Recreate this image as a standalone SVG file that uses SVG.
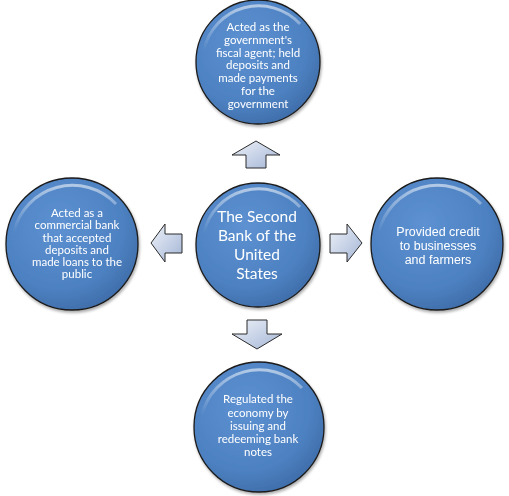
<svg xmlns="http://www.w3.org/2000/svg" width="509" height="496" viewBox="0 0 509 496">
<defs>
<radialGradient id="cg" cx="0.4" cy="0.35" r="0.7">
<stop offset="0" stop-color="#5d91d1"/>
<stop offset="0.7" stop-color="#4d81c1"/>
<stop offset="1" stop-color="#3e6ca8"/>
</radialGradient>
<linearGradient id="hl" x1="0" y1="0" x2="0" y2="1">
<stop offset="0" stop-color="#ffffff" stop-opacity="0.55"/>
<stop offset="1" stop-color="#ffffff" stop-opacity="0"/>
</linearGradient>
<linearGradient id="ag" x1="0" y1="0" x2="1" y2="1">
<stop offset="0" stop-color="#eef2f8"/>
<stop offset="0.5" stop-color="#c9d4e8"/>
<stop offset="1" stop-color="#a4b4d4"/>
</linearGradient>
<filter id="sh" x="-20%" y="-20%" width="140%" height="140%">
<feGaussianBlur in="SourceAlpha" stdDeviation="1.5"/>
<feOffset dx="1" dy="2"/>
<feComponentTransfer><feFuncA type="linear" slope="0.35"/></feComponentTransfer>
<feMerge><feMergeNode/><feMergeNode in="SourceGraphic"/></feMerge>
</filter>
</defs>
<style>
.c{fill:url(#cg);stroke:#1a1a1a;stroke-width:1.3}
.g{fill:none;stroke:url(#hl);stroke-width:3}
.t{font-family:Lato,"Liberation Sans",sans-serif;fill:#ffffff;text-anchor:middle;font-size:11.5px}
.ta{font-family:"Liberation Sans",Arial,sans-serif;fill:#ffffff;text-anchor:middle;font-size:12.5px}
.tc{font-family:Lato,"Liberation Sans",sans-serif;fill:#ffffff;text-anchor:middle;font-size:15.5px}
.a{fill:url(#ag);stroke:#2b2b2b;stroke-width:1}
</style>
<rect width="509" height="496" fill="#ffffff"/>
<g id="connectors">
<path class="a" d="M256,141 L280,155 L266,155 L266,168 L246,168 L246,155 L232,155 Z"/>
<path class="a" d="M151,243 L165,224 L165,234 L182,234 L182,253 L165,253 L165,262 Z"/>
<path class="a" d="M362,243 L347,224 L347,234 L330,234 L330,253 L347,253 L347,262 Z"/>
<path class="a" d="M257,349 L282,334 L267,334 L267,320 L247,320 L247,334 L232,334 Z"/>
</g>
<g id="top" filter="url(#sh)">
<circle class="c" cx="258" cy="62" r="62"/>
<path class="g" d="M204,50 A56,56 0 0 1 300,24"/>
<text class="t" x="258" y="31">Acted as the</text>
<text class="t" x="258" y="44">government's</text>
<text class="t" x="258" y="56.5">fiscal agent; held</text>
<text class="t" x="258" y="69">deposits and</text>
<text class="t" x="258" y="82">made payments</text>
<text class="t" x="258" y="95">for the</text>
<text class="t" x="258" y="108">government</text>
</g>
<g id="center" filter="url(#sh)">
<circle class="c" cx="258" cy="245" r="62"/>
<path class="g" d="M204,233 A56,56 0 0 1 300,207"/>
<text class="tc" x="257" y="221.5">The Second</text>
<text class="tc" x="257" y="240.5">Bank of the</text>
<text class="tc" x="257" y="259.5">United</text>
<text class="tc" x="257" y="278.5">States</text>
</g>
<g id="left" filter="url(#sh)">
<circle class="c" cx="72" cy="244" r="66"/>
<path class="g" d="M14,232 A60,60 0 0 1 116,204"/>
<text class="t" x="77" y="217">Acted as a</text>
<text class="t" x="77" y="229">commercial bank</text>
<text class="t" x="77" y="241.5">that accepted</text>
<text class="t" x="77" y="253.5">deposits and</text>
<text class="t" x="77" y="265.5">made loans to the</text>
<text class="t" x="77" y="278">public</text>
</g>
<g id="right" filter="url(#sh)">
<circle class="c" cx="437" cy="244" r="66"/>
<path class="g" d="M379,232 A60,60 0 0 1 481,204"/>
<text class="ta" x="438" y="236">Provided credit</text>
<text class="ta" x="438" y="250">to businesses</text>
<text class="ta" x="438" y="263.5">and farmers</text>
</g>
<g id="bottom" filter="url(#sh)">
<circle class="c" cx="259" cy="427" r="65"/>
<path class="g" d="M202,415 A59,59 0 0 1 302,388"/>
<text class="t" x="258" y="403">Regulated the</text>
<text class="t" x="258" y="416.5">economy by</text>
<text class="t" x="258" y="430">issuing and</text>
<text class="t" x="258" y="443">redeeming bank</text>
<text class="t" x="258" y="455.5">notes</text>
</g>
</svg>
